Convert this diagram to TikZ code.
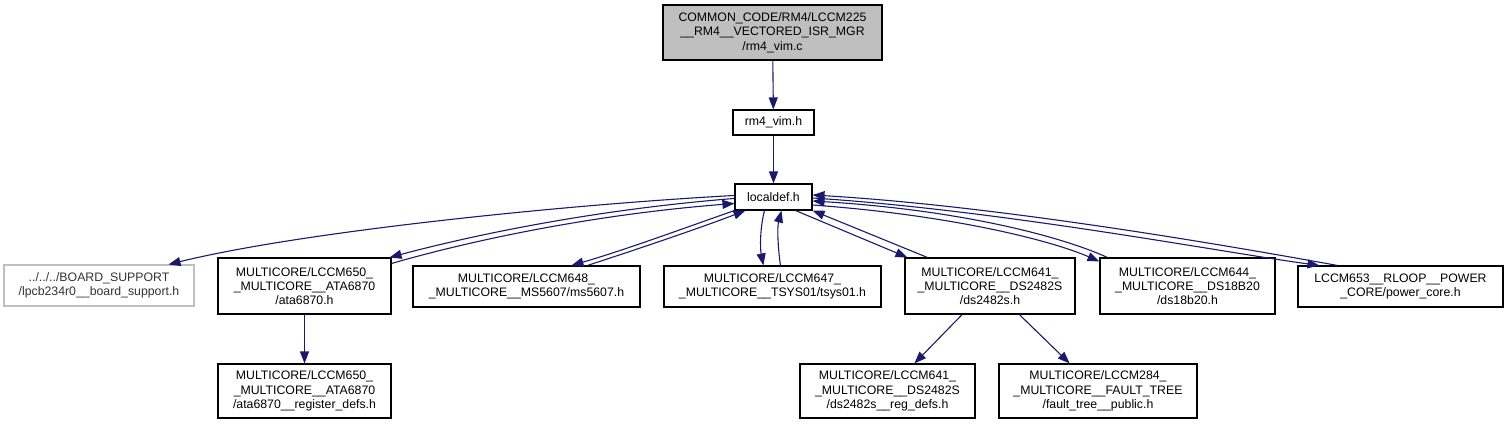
\documentclass[tikz,border=0pt]{standalone}
\usepackage{fontspec}
\setmainfont{Liberation Sans}
\usetikzlibrary{arrows.meta,calc}
\definecolor{edgeblue}{RGB}{25,25,112}
\definecolor{grey75}{RGB}{191,191,191}
\tikzset{
  filebox/.style={draw=black, line width=1.1pt, fill=white, inner sep=0pt, align=center,
    font=\fontsize{12.3}{14.3}\selectfont},
  edge/.style={draw=edgeblue, line width=1.1pt, -{Triangle[length=12pt,width=9pt]}},
}
\begin{document}
\begin{tikzpicture}[x=1pt,y=-1pt]
\useasboundingbox (0,0) rectangle (1508,424);
% nodes
\node[filebox, fill=grey75, minimum width=219pt, minimum height=55pt] (top) at (772.5,32.5)
  {COMMON\_CODE/RM4/LCCM225\\\_\_RM4\_\_VECTORED\_ISR\_MGR\\/rm4\_vim.c};
\node[filebox, minimum width=81pt, minimum height=25pt] (rm4) at (773.5,122.5) {rm4\_vim.h};
\node[filebox, minimum width=77pt, minimum height=26pt] (loc) at (773.5,197) {localdef.h};
\node[filebox, draw=grey75, text=black!80, minimum width=190pt, minimum height=41pt] (board) at (99,285.5)
  {../../../BOARD\_SUPPORT\\/lpcb234r0\_\_board\_support.h};
\node[filebox, minimum width=173pt, minimum height=56pt] (ata) at (304.5,286)
  {MULTICORE/LCCM650\_\\\_MULTICORE\_\_ATA6870\\/ata6870.h};
\node[filebox, minimum width=227pt, minimum height=41pt] (ms) at (526.5,286.5)
  {MULTICORE/LCCM648\_\\\_MULTICORE\_\_MS5607/ms5607.h};
\node[filebox, minimum width=217pt, minimum height=41pt] (tsys) at (772.5,286.5)
  {MULTICORE/LCCM647\_\\\_MULTICORE\_\_TSYS01/tsys01.h};
\node[filebox, minimum width=170pt, minimum height=56pt] (ds) at (990,286)
  {MULTICORE/LCCM641\_\\\_MULTICORE\_\_DS2482S\\/ds2482s.h};
\node[filebox, minimum width=175pt, minimum height=56pt] (ds18) at (1187.5,286)
  {MULTICORE/LCCM644\_\\\_MULTICORE\_\_DS18B20\\/ds18b20.h};
\node[filebox, minimum width=205pt, minimum height=41pt] (pow) at (1400.5,286.5)
  {LCCM653\_\_RLOOP\_\_POWER\\\_CORE/power\_core.h};
\node[filebox, minimum width=173pt, minimum height=54pt] (atareg) at (304.5,391)
  {MULTICORE/LCCM650\_\\\_MULTICORE\_\_ATA6870\\/ata6870\_\_register\_defs.h};
\node[filebox, minimum width=175pt, minimum height=54pt] (dsreg) at (887.5,391)
  {MULTICORE/LCCM641\_\\\_MULTICORE\_\_DS2482S\\/ds2482s\_\_reg\_defs.h};
\node[filebox, minimum width=198pt, minimum height=54pt] (fault) at (1098,391)
  {MULTICORE/LCCM284\_\\\_MULTICORE\_\_FAULT\_TREE\\/fault\_tree\_\_public.h};
% edges
\draw[edge] (top) -- (rm4);
\draw[edge] (rm4) -- (loc);
\draw[edge] ($(loc.north west)+(0,12)$) .. controls (560,205) and (300,232) .. ($(board.north east)+(-26,0)$);
\draw[edge] ($(loc.north west)+(0,15)$) .. controls (590,210) and (470,236) .. ($(ata.north east)+(-2,0)$);
\draw[edge] ($(ata.north east)+(0,6)$) .. controls (480,238) and (600,214) .. ($(loc.north west)+(0,20)$);
\draw[edge] (loc.south west) .. controls (690,226) and (625,250) .. ($(ms.north west)+(159,0)$);
\draw[edge] ($(ms.north west)+(175,0)$) .. controls (635,250) and (700,228) .. ($(loc.south west)+(11,0)$);
\draw[edge] ($(loc.south west)+(30,0)$) .. controls (760,228) and (760,248) .. ($(tsys.north west)+(100,0)$);
\draw[edge] ($(tsys.north west)+(117,0)$) .. controls (778,248) and (777,228) .. ($(loc.south west)+(47,0)$);
\draw[edge] ($(loc.south east)+(-17,0)$) -- ($(ds.north west)+(3,0)$);
\draw[edge] ($(ds.north west)+(23,0)$) -- (loc.south east);
\draw[edge] ($(loc.east)+(0,8)$) .. controls (950,215) and (1050,240) .. ($(ds18.north west)+(0,4)$);
\draw[edge] ($(ds18.north west)+(8,0)$) .. controls (1060,236) and (960,210) .. ($(loc.east)+(0,4)$);
\draw[edge] ($(loc.east)+(0,1)$) .. controls (1000,210) and (1220,252) .. ($(pow.north west)+(22,0)$);
\draw[edge] ($(pow.north west)+(40,0)$) .. controls (1230,246) and (1000,206) .. ($(loc.east)+(0,-2)$);
\draw[edge] (ata) -- (atareg);
\draw[edge] (ds) -- (dsreg);
\draw[edge] (ds) -- (fault);
\end{tikzpicture}
\end{document}
